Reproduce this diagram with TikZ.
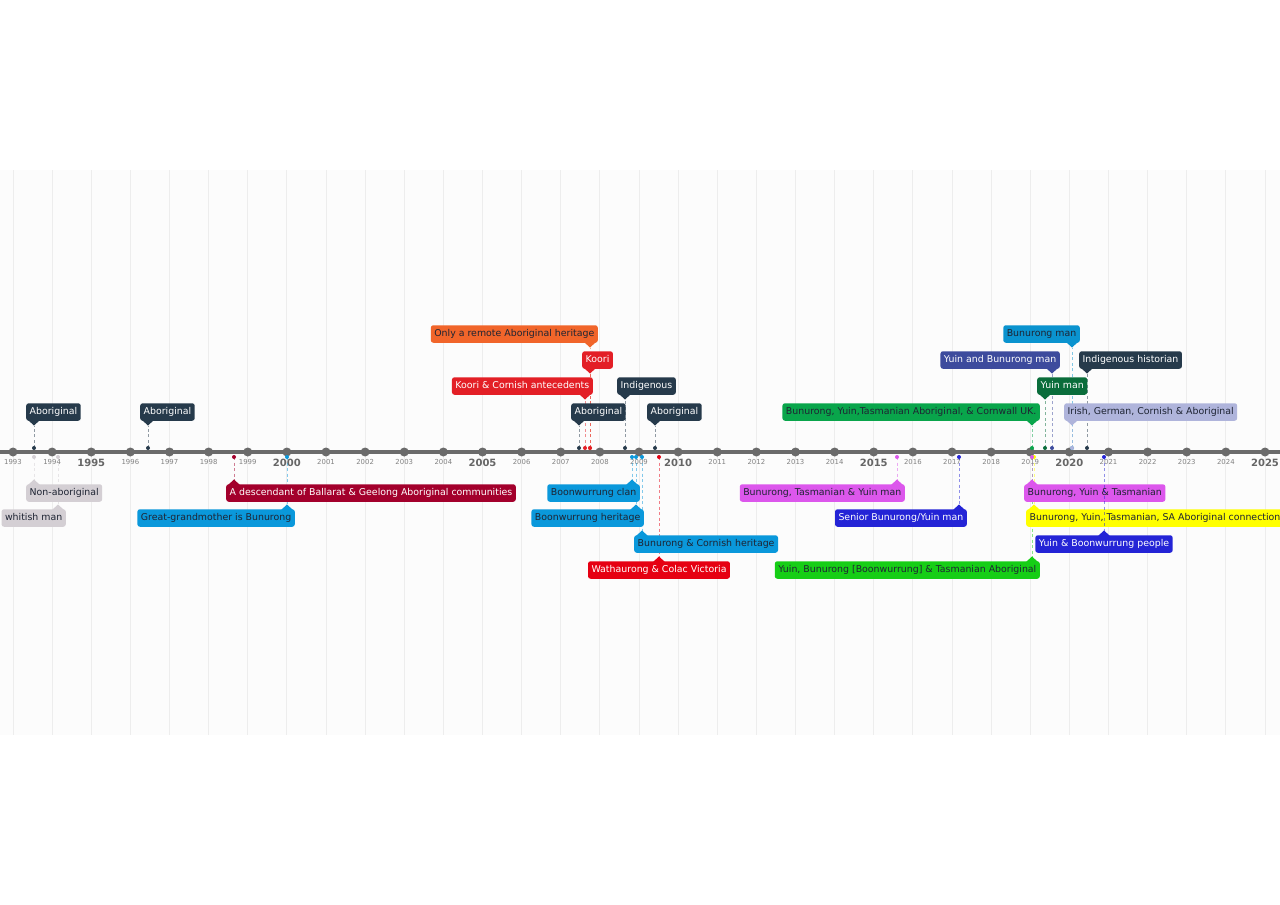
\documentclass[tikz,border=0pt]{standalone}
\usepackage{fontspec}
\setmainfont{DejaVu Sans}
\usetikzlibrary{calc}

\definecolor{cBand}{HTML}{FCFCFC}
\definecolor{cGrid}{HTML}{EDEDED}
\definecolor{cAxis}{HTML}{6B6B6B}
\definecolor{cInk}{HTML}{1E2433}
\definecolor{cDark}{HTML}{263A4B}
\definecolor{cKoori}{HTML}{E31F26}
\definecolor{cOrange}{HTML}{F1652A}
\definecolor{cCrimson}{HTML}{A3002C}
\definecolor{cBlue}{HTML}{0A98DB}
\definecolor{cBlueB}{HTML}{0A93CF}
\definecolor{cWath}{HTML}{E60012}
\definecolor{cMag}{HTML}{DC57EC}
\definecolor{cSenior}{HTML}{2424D6}
\definecolor{cLime}{HTML}{16CE16}
\definecolor{cGreen}{HTML}{09A54B}
\definecolor{cYuin}{HTML}{0A6D3B}
\definecolor{cIndigo}{HTML}{3D4B9D}
\definecolor{cLav}{HTML}{AFB4DB}
\definecolor{cGrey}{HTML}{D4CFD4}
\definecolor{cYellow}{HTML}{FFFF00}

\tikzset{
  box/.style={rounded corners=2.5pt,inner xsep=3.5pt,inner ysep=0pt,minimum height=17.5pt,
    text height=7.1pt,text depth=2pt,font=\fontsize{9.4}{10}\selectfont},
  posL/.style={anchor=west,xshift=-8pt},
  posR/.style={anchor=east,xshift=8pt},
  posC/.style={anchor=center},
  lead/.style={dash pattern=on 3pt off 2.5pt,line width=1pt,draw opacity=0.5},
  gridline/.style={draw=cGrid,line width=0.8pt},
  yearsm/.style={text=cAxis!85,font=\fontsize{6.9}{7}\selectfont,inner sep=0pt},
  yearbf/.style={text=cAxis!95!black,font=\bfseries\fontsize{10}{11}\selectfont,inner sep=0pt},
}

% event above the axis: id, x, level, placing, colour, text colour, text
\newcommand{\evup}[7]{%
  \coordinate (d#1) at (#2,448);
  \coordinate (t#1) at (#2,#3+13.5);
  \draw[lead,#5] (d#1) -- (t#1);
  \fill[#5] (d#1) circle (2pt);
  \fill[#5] ($(t#1)+(-6,-5.5)$) -- (t#1) -- ($(t#1)+(6,-5.5)$) -- cycle;
  \node[box,fill=#5,text=#6,#4] (e#1) at (#2,#3) {#7};
}
% event below the axis
\newcommand{\evdn}[7]{%
  \coordinate (d#1) at (#2,457);
  \coordinate (t#1) at (#2,#3-13.5);
  \draw[lead,#5] (d#1) -- (t#1);
  \fill[#5] (d#1) circle (2pt);
  \fill[#5] ($(t#1)+(-6,5.5)$) -- (t#1) -- ($(t#1)+(6,5.5)$) -- cycle;
  \node[box,fill=#5,text=#6,#4] (e#1) at (#2,#3) {#7};
}

\begin{document}
\begin{tikzpicture}[x=1pt,y=-1pt]
  \clip (0,0) rectangle (1280,905);
  \fill[white] (0,0) rectangle (1280,905);
  \fill[cBand] (0,170) rectangle (1280,735);
  \foreach \yr in {1993,...,2025}
    \draw[gridline] ({13+39.125*(\yr-1993)},170) -- ++(0,565);
  % axis
  \draw[line width=4pt,cAxis] (0,452) -- (1280,452);
  \foreach \yr in {1993,...,2025}
    \fill[cAxis] ({13+39.125*(\yr-1993)},452) circle (4.5pt);
  \foreach \yr in {1993,1994,1996,1997,1998,1999,2001,2002,2003,2004,2006,2007,2008,2009,
      2011,2012,2013,2014,2016,2017,2018,2019,2021,2022,2023,2024}
    \node[yearsm] at ({13+39.125*(\yr-1993)},462) {\yr};
  \foreach \yr in {1995,2000,2005,2010,2015,2020,2025}
    \node[yearbf] at ({13+39.125*(\yr-1993)},463) {\yr};

  % above, far levels first
  \evup{6}{590}{334}{posR}{cOrange}{cInk}{Only a remote Aboriginal heritage}
  \evup{12}{1072}{334}{posR}{cBlueB}{cInk}{Bunurong man}
  \evup{5}{590}{360}{posL}{cKoori}{white}{Koori}
  \evup{11}{1052}{360}{posR}{cIndigo}{white}{Yuin and Bunurong man}
  \evup{13}{1087}{360}{posL}{cDark}{white}{Indigenous historian}
  \evup{4}{585}{386}{posR}{cKoori}{white}{Koori \& Cornish antecedents}
  \evup{7}{625}{386}{posL}{cDark}{white}{Indigenous}
  \evup{10}{1045}{386}{posL}{cYuin}{white}{Yuin man}
  \evup{1}{34}{412}{posL}{cDark}{white}{Aboriginal}
  \evup{2}{148}{412}{posL}{cDark}{white}{Aboriginal}
  \evup{3}{579}{412}{posL}{cDark}{white}{Aboriginal}
  \evup{8}{655}{412}{posL}{cDark}{white}{Aboriginal}
  \evup{9}{1032}{412}{posR}{cGreen}{cInk}{Bunurong, Yuin,Tasmanian Aboriginal, \& Cornwall UK.}
  \evup{14}{1072}{412}{posL}{cLav}{cInk}{Irish, German, Cornish \& Aboriginal}

  % below, far levels first
  \evdn{22}{659}{570}{posC}{cWath}{white}{Wathaurong \& Colac Victoria}
  \evdn{25}{1032}{570}{posR}{cLime}{cInk}{Yuin, Bunurong [Boonwurrung] \& Tasmanian Aboriginal}
  \evdn{21}{642}{544}{posL}{cBlue}{cInk}{Bunurong \& Cornish heritage}
  \evdn{16}{58}{518}{posR}{cGrey}{cInk}{whitish man}
  \evdn{18}{287}{518}{posR}{cBlue}{cInk}{Great-grandmother is Bunurong}
  \evdn{20}{636}{518}{posR}{cBlue}{cInk}{Boonwurrung heritage}
  \evdn{24}{959}{518}{posR}{cSenior}{white}{Senior Bunurong/Yuin man}
  \evdn{27}{1034}{518}{posL}{cYellow}{cInk}{Bunurong, Yuin, Tasmanian, SA Aboriginal connections}
  \evdn{15}{34}{493}{posL}{cGrey}{cInk}{Non-aboriginal}
  \evdn{17}{234}{493}{posL}{cCrimson}{white}{A descendant of Ballarat \& Geelong Aboriginal communities}
  \evdn{19}{632}{493}{posR}{cBlue}{cInk}{Boonwurrung clan}
  \evdn{23}{897}{493}{posR}{cMag}{cInk}{Bunurong, Tasmanian \& Yuin man}
  \evdn{26}{1032}{493}{posL}{cMag}{cInk}{Bunurong, Yuin \& Tasmanian}
  \evdn{28}{1104}{544}{posC}{cSenior}{white}{Yuin \& Boonwurrung people}
\end{tikzpicture}
\end{document}
